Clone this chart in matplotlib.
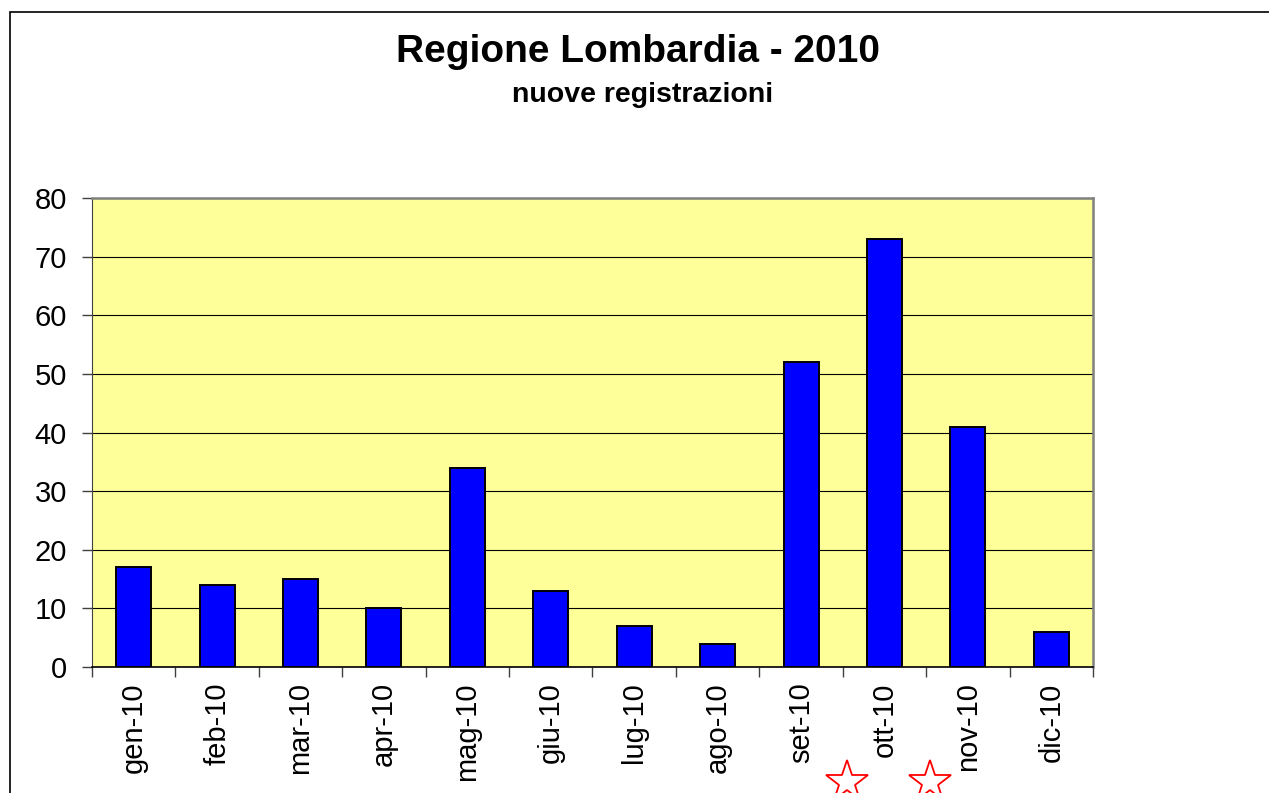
import numpy as np
import matplotlib
matplotlib.use('Agg')
import matplotlib.pyplot as plt
from matplotlib.patches import Rectangle
from matplotlib.transforms import blended_transform_factory

plt.rcParams['font.family'] = ['Liberation Sans', 'DejaVu Sans']

months = ['gen-10', 'feb-10', 'mar-10', 'apr-10', 'mag-10', 'giu-10',
          'lug-10', 'ago-10', 'set-10', 'ott-10', 'nov-10', 'dic-10']
registrations = [17, 14, 15, 10, 34, 13, 7, 4, 52, 73, 41, 6]
star_marks = [8.55, 9.55]
y_ticks = [0, 10, 20, 30, 40, 50, 60, 70, 80]

fig = plt.figure(figsize=(12.69, 7.93), dpi=100)
ax = fig.add_axes([0.0725, 0.1589, 0.7888, 0.5914])

# outer frame (cut off at right and bottom like the source)
fig.patches.append(Rectangle((10 / 1269, -0.2), 1.2, 1.2 - 12 / 793,
                             transform=fig.transFigure, fill=False,
                             edgecolor='black', linewidth=1.2))

idx = np.arange(len(months))
ax.set_facecolor('#FFFF99')
ax.bar(idx, registrations, width=0.42, color='#0000FF', edgecolor='black',
       linewidth=1.4, zorder=3)

ax.set_xlim(-0.5, len(months) - 0.5)
ax.set_ylim(0, 80)
ax.set_yticks(y_ticks)
ax.yaxis.grid(True, color='black', linewidth=0.8, zorder=1)
ax.set_axisbelow(True)

ax.set_xticks(idx)
ax.set_xticklabels(months, rotation=90, fontsize=21)
ax.set_xticks(np.arange(-0.5, len(months)), minor=True)
ax.tick_params(axis='x', which='major', length=0, pad=11)
ax.tick_params(axis='x', which='minor', length=7, width=1, color='#404040',
               direction='out')
ax.tick_params(axis='y', labelsize=21, length=7, width=1, color='#404040',
               direction='out', pad=11)

for side in ['top', 'right']:
    ax.spines[side].set_color('#808080')
    ax.spines[side].set_linewidth(1.8)
ax.spines['left'].set_color('#404040')
ax.spines['bottom'].set_color('black')
ax.spines['bottom'].set_linewidth(1.2)

trans = blended_transform_factory(ax.transData, ax.transAxes)
ax.plot(star_marks, [-0.245] * len(star_marks), linestyle='none', marker='*',
        markersize=32, markerfacecolor='white', markeredgecolor='red',
        markeredgewidth=1.3, transform=trans, clip_on=False)

fig.text(0.5025, 1 - 62 / 793, 'Regione Lombardia - 2010', ha='center',
         va='baseline', fontsize=28, fontweight='bold')
fig.text(0.506, 1 - 102 / 793, 'nuove registrazioni', ha='center',
         va='baseline', fontsize=20.5, fontweight='bold')

fig.savefig('out.png', dpi=100)
